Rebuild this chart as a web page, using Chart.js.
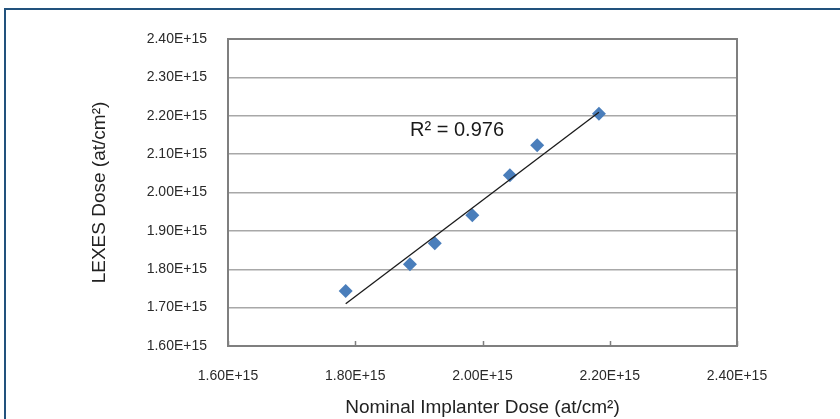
<!DOCTYPE html>
<html>
<head>
<meta charset="utf-8">
<script src="https://cdn.jsdelivr.net/npm/chart.js@4"></script>
<style>
  html, body { margin: 0; padding: 0; background: #fff; }
  #wrap { width: 840px; height: 419px; }
</style>
</head>
<body>
<div id="wrap"><canvas id="doseChart" width="840" height="419"></canvas></div>
<script>
// values (units of 1E+15 at/cm2)
const nominalDose = [1.785, 1.886, 1.925, 1.984, 2.043, 2.086, 2.183];
const lexesDose   = [1.743, 1.813, 1.868, 1.941, 2.045, 2.123, 2.205];
// linear trendline as drawn (end points)
const trendX = [1.785, 2.183];
const trendY = [1.710, 2.209];
const rSquaredLabel = 'R² = 0.976';
const E15 = 1e15;

const axisMin = 1.6 * E15, axisMax = 2.4 * E15;

function sci(v) { return Number(v).toExponential(2).toUpperCase(); }

// plot frame, outer border, bottom tick marks and the R² note
const framePlugin = {
  id: 'frame',
  beforeDraw(chart) {
    const { ctx } = chart;
    ctx.save();
    ctx.fillStyle = '#ffffff';
    ctx.fillRect(0, 0, chart.width, chart.height);
    ctx.strokeStyle = '#22527d';
    ctx.lineWidth = 2;
    ctx.beginPath();
    ctx.moveTo(5, chart.height);
    ctx.lineTo(5, 9);
    ctx.lineTo(chart.width, 9);
    ctx.stroke();
    ctx.restore();
  },
  afterDatasetsDraw(chart) {
    const { ctx, chartArea: a, scales } = chart;
    ctx.save();
    ctx.strokeStyle = '#7f7f7f';
    ctx.lineWidth = 2;
    ctx.strokeRect(a.left, a.top, a.right - a.left, a.bottom - a.top);
    ctx.lineWidth = 1.5;
    ctx.beginPath();
    scales.x.ticks.forEach(t => {
      const px = Math.round(scales.x.getPixelForValue(t.value)) + 0.5;
      ctx.moveTo(px, a.bottom);
      ctx.lineTo(px, a.bottom - 5);
    });
    ctx.stroke();
    ctx.fillStyle = '#1a1a1a';
    ctx.font = '20px "Liberation Sans", Arial, sans-serif';
    ctx.textAlign = 'center';
    ctx.textBaseline = 'middle';
    ctx.fillText(rSquaredLabel, scales.x.getPixelForValue(1.96 * E15), scales.y.getPixelForValue(2.1625 * E15));
    ctx.restore();
  }
};

const tickFont = { family: '"Liberation Sans", Arial, sans-serif', size: 14 };
const titleFont = { family: '"Liberation Sans", Arial, sans-serif', size: 19 };

new Chart(document.getElementById('doseChart').getContext('2d'), {
  type: 'scatter',
  data: {
    datasets: [
      {
        label: 'LEXES',
        data: nominalDose.map((x, i) => ({ x: x * E15, y: lexesDose[i] * E15 })),
        pointStyle: 'rectRot',
        pointRadius: 7,
        pointHoverRadius: 7,
        backgroundColor: '#4a7ebb',
        borderColor: '#4a7ebb',
        borderWidth: 0,
        order: 1
      },
      {
        label: 'Linear fit',
        type: 'line',
        data: trendX.map((x, i) => ({ x: x * E15, y: trendY[i] * E15 })),
        borderColor: '#1a1a1a',
        borderWidth: 1.3,
        pointRadius: 0,
        fill: false,
        order: 0
      }
    ]
  },
  options: {
    responsive: false,
    animation: false,
    layout: { padding: { left: 0, top: 39, right: 103, bottom: 0 } },
    plugins: { legend: { display: false }, tooltip: { enabled: false } },
    scales: {
      x: {
        type: 'linear',
        min: axisMin, max: axisMax,
        afterFit: s => { s.height = 73; },
        border: { display: false },
        grid: { display: false },
        ticks: { stepSize: 0.2 * E15, color: '#2a2a2a', font: tickFont, padding: 14, maxRotation: 0, callback: v => sci(v) },
        title: { display: true, text: 'Nominal Implanter Dose (at/cm²)', color: '#222', font: titleFont, padding: { top: 0, bottom: 0 } }
      },
      y: {
        type: 'linear',
        min: axisMin, max: axisMax,
        afterFit: s => { s.width = 228; },
        border: { display: false },
        grid: { color: '#a8a8a8', lineWidth: 1.5, drawTicks: false },
        ticks: { stepSize: 0.1 * E15, color: '#2a2a2a', font: tickFont, padding: 21, callback: v => sci(v) },
        title: { display: true, text: 'LEXES Dose (at/cm²)', color: '#222', font: titleFont, padding: { top: 88, bottom: 0 } }
      }
    }
  },
  plugins: [framePlugin]
});
</script>
</body>
</html>
